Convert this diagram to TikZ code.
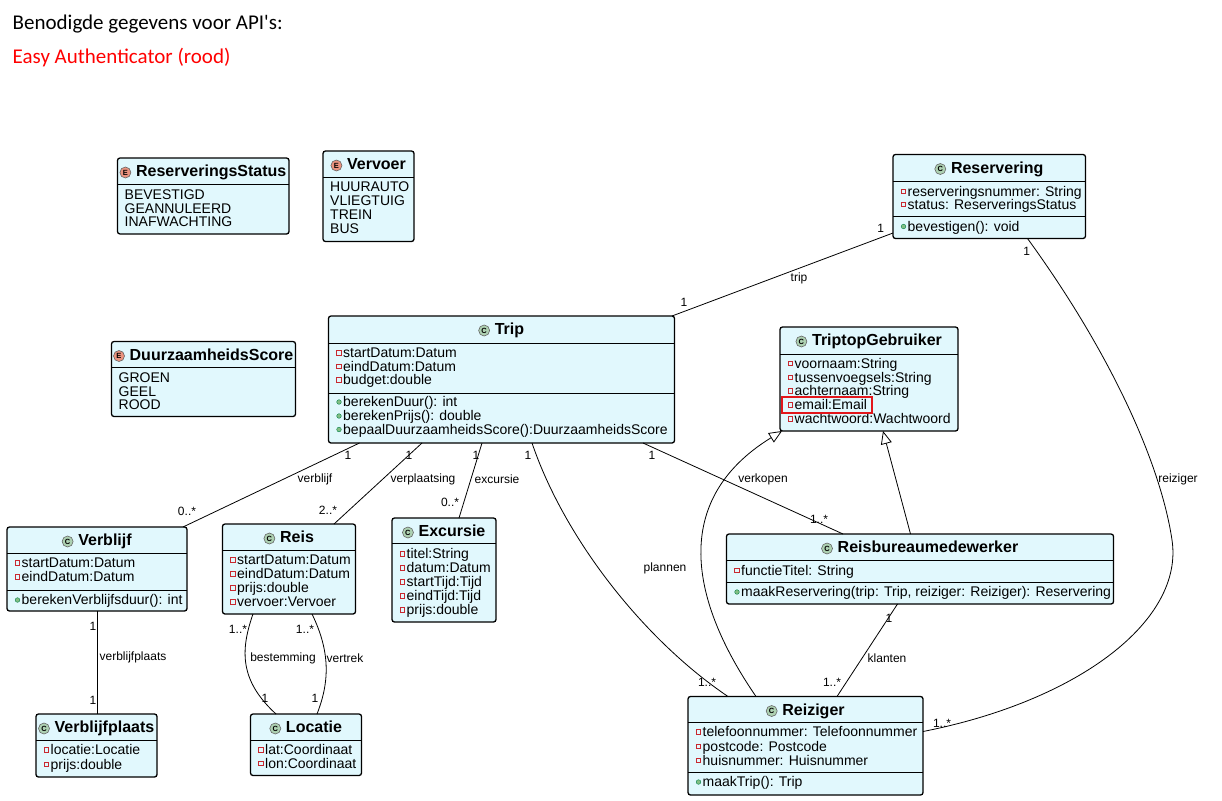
\documentclass[tikz,border=0pt]{standalone}
\usepackage{fontspec}
\setmainfont{Liberation Sans}
\newfontfamily\calibri[Ligatures=TeXOff]{Carlito}
\usetikzlibrary{arrows.meta}
\definecolor{boxfill}{HTML}{E1F8FD}
\definecolor{cicon}{HTML}{ADD1B2}
\definecolor{eicon}{HTML}{EB937F}
\definecolor{privred}{HTML}{C82930}
\definecolor{pubfill}{HTML}{84BE84}
\definecolor{publine}{HTML}{038048}
\definecolor{hlred}{HTML}{E3161B}

\newcounter{itemno}
% class frame: name, x, y, width, height
\newcommand\classframe[5]{\node[classbox, minimum width=#4pt, minimum height=#5pt] (#1) at (#2,#3) {};}
% compartment divider at an offset below the top edge
\newcommand\classsep[2]{\draw[sepline] ([yshift=-#2pt]#1.north west) -- ([yshift=-#2pt]#1.north east);}
% header: box, icon letter, icon colour, name
\newcommand\classtitle[4]{%
  \node[titletext] (#1-title) at ([yshift=-18.5pt]#1.north) {\hspace*{16pt}#4};
  \node[iconcirc, fill=#3] (#1-icon) at ([xshift=5.5pt,yshift=4pt]#1-title.base west) {#2};}
% private attribute row: box, row centre offset, text
\newcommand\attrrow[3]{\stepcounter{itemno}%
  \node[rowtext] (#1-a\arabic{itemno}) at ([xshift=14.5pt,yshift=-#2pt-4.5pt]#1.north west) {#3};
  \node[privicon] (#1-p\arabic{itemno}) at ([xshift=10.5pt,yshift=-#2pt]#1.north west) {};}
% public method row
\newcommand\methrow[3]{\stepcounter{itemno}%
  \node[rowtext] (#1-m\arabic{itemno}) at ([xshift=14.5pt,yshift=-#2pt-4.5pt]#1.north west) {#3};
  \node[pubicon] (#1-q\arabic{itemno}) at ([xshift=10.5pt,yshift=-#2pt]#1.north west) {};}
% enum literal row
\newcommand\litrow[3]{\stepcounter{itemno}%
  \node[rowtext] (#1-l\arabic{itemno}) at ([xshift=7pt,yshift=-#2pt-4.5pt]#1.north west) {#3};}
% edge label
\newcommand\elabel[3]{\stepcounter{itemno}\node[lbl] (lbl\arabic{itemno}) at (#1,#2) {#3};}

\begin{document}
\begin{tikzpicture}[x=1pt,y=-1pt,
  classbox/.style={draw, line width=1.3pt, fill=boxfill, rounded corners=2.5pt, anchor=north west, inner sep=0pt, outer sep=0pt},
  sepline/.style={line width=1pt},
  titletext/.style={anchor=base, inner sep=0pt, font=\bfseries\fontsize{16}{16}\selectfont},
  iconcirc/.style={circle, draw=black!60, line width=0.6pt, minimum size=11pt, inner sep=0pt, font=\bfseries\fontsize{7.5}{7.5}\selectfont},
  rowtext/.style={anchor=base west, inner sep=0pt, font=\fontsize{14}{14}\selectfont},
  privicon/.style={rectangle, draw=privred, line width=0.8pt, minimum size=4.5pt, inner sep=0pt},
  pubicon/.style={circle, fill=pubfill, draw=publine, line width=0.4pt, minimum size=4.6pt, inner sep=0pt},
  assoc/.style={line width=0.8pt},
  gen/.style={line width=0.8pt, -{Triangle[open, length=13pt, width=11pt]}},
  lbl/.style={inner sep=0pt, font=\fontsize{12}{12}\selectfont},
]
\useasboundingbox[fill=white] (0,0) rectangle (1222,800);

% heading lines
\node[anchor=base west, inner sep=0pt, font=\calibri\fontsize{21}{21}\selectfont] (heading) at (12.5,30) {Benodigde gegevens voor API's:};
\node[anchor=base west, inner sep=0pt, text=red, font=\calibri\fontsize{21}{21}\selectfont] (subheading) at (12.5,63.5) {Easy Authenticator (rood)};

% ---- enumerations
\classframe{rstatus}{117.5}{158}{171.5}{76}
\classsep{rstatus}{26}
\classtitle{rstatus}{E}{eicon}{ReserveringsStatus}
\litrow{rstatus}{37}{BEVESTIGD}
\litrow{rstatus}{50.5}{GEANNULEERD}
\litrow{rstatus}{64}{INAFWACHTING}

\classframe{vervoer}{323}{151}{91}{90.5}
\classsep{vervoer}{26}
\classtitle{vervoer}{E}{eicon}{Vervoer}
\litrow{vervoer}{36}{HUURAUTO}
\litrow{vervoer}{50}{VLIEGTUIG}
\litrow{vervoer}{64}{TREIN}
\litrow{vervoer}{78}{BUS}

\classframe{dscore}{111.5}{341.5}{184}{75}
\classsep{dscore}{25.5}
\classtitle{dscore}{E}{eicon}{DuurzaamheidsScore}
\litrow{dscore}{36}{GROEN}
\litrow{dscore}{50}{GEEL}
\litrow{dscore}{63.5}{ROOD}

% ---- classes
\classframe{reservering}{893}{154.5}{192.5}{84}
\classsep{reservering}{26.5}
\classsep{reservering}{61.5}
\classtitle{reservering}{C}{cicon}{Reservering}
\attrrow{reservering}{37}{reserveringsnummer: String}
\attrrow{reservering}{50}{status: ReserveringsStatus}
\methrow{reservering}{72}{bevestigen(): void}

\classframe{trip}{328.5}{316}{346}{127}
\classsep{trip}{27}
\classsep{trip}{77}
\classtitle{trip}{C}{cicon}{Trip}
\attrrow{trip}{37}{startDatum:Datum}
\attrrow{trip}{50.5}{eindDatum:Datum}
\attrrow{trip}{64}{budget:double}
\methrow{trip}{86}{berekenDuur(): int}
\methrow{trip}{100}{berekenPrijs(): double}
\methrow{trip}{113.5}{bepaalDuurzaamheidsScore():DuurzaamheidsScore}

\classframe{tg}{780}{327}{178}{104}
\classsep{tg}{27.5}
\classtitle{tg}{C}{cicon}{TriptopGebruiker}
\attrrow{tg}{36.5}{voornaam:String}
\attrrow{tg}{50.5}{tussenvoegsels:String}
\attrrow{tg}{64}{achternaam:String}
\attrrow{tg}{78}{email:Email}
\attrrow{tg}{92}{wachtwoord:Wachtwoord}
% highlighted e-mail attribute
\draw[hlred, line width=2pt] ([xshift=2pt,yshift=-70pt]tg.north west) rectangle ([xshift=92pt,yshift=-86pt]tg.north west);

\classframe{verblijf}{7}{527}{180}{84}
\classsep{verblijf}{26}
\classsep{verblijf}{63}
\classtitle{verblijf}{C}{cicon}{Verblijf}
\attrrow{verblijf}{36}{startDatum:Datum}
\attrrow{verblijf}{50}{eindDatum:Datum}
\methrow{verblijf}{73}{berekenVerblijfsduur(): int}

\classframe{vplaats}{36}{714}{121}{63}
\classsep{vplaats}{26}
\classtitle{vplaats}{C}{cicon}{Verblijfplaats}
\attrrow{vplaats}{36}{locatie:Locatie}
\attrrow{vplaats}{50.5}{prijs:double}

\classframe{reis}{222.5}{524}{133}{90}
\classsep{reis}{26}
\classtitle{reis}{C}{cicon}{Reis}
\attrrow{reis}{36}{startDatum:Datum}
\attrrow{reis}{50}{eindDatum:Datum}
\attrrow{reis}{64}{prijs:double}
\attrrow{reis}{78}{vervoer:Vervoer}

\classframe{excursie}{392}{518}{104}{104}
\classsep{excursie}{25.5}
\classtitle{excursie}{C}{cicon}{Excursie}
\attrrow{excursie}{36}{titel:String}
\attrrow{excursie}{50}{datum:Datum}
\attrrow{excursie}{64}{startTijd:Tijd}
\attrrow{excursie}{78}{eindTijd:Tijd}
\attrrow{excursie}{92}{prijs:double}

\classframe{locatie}{250.5}{714}{111}{61.5}
\classsep{locatie}{26}
\classtitle{locatie}{C}{cicon}{Locatie}
\attrrow{locatie}{36}{lat:Coordinaat}
\attrrow{locatie}{49.5}{lon:Coordinaat}

\classframe{rbm}{726.5}{534}{387}{70}
\classsep{rbm}{26.5}
\classsep{rbm}{48.5}
\classtitle{rbm}{C}{cicon}{Reisbureaumedewerker}
\attrrow{rbm}{36.5}{functieTitel: String}
\methrow{rbm}{58}{maakReservering(trip: Trip, reiziger: Reiziger): Reservering}

\classframe{reiziger}{688}{696.5}{235}{98.5}
\classsep{reiziger}{26}
\classsep{reiziger}{76}
\classtitle{reiziger}{C}{cicon}{Reiziger}
\attrrow{reiziger}{35.5}{telefoonnummer: Telefoonnummer}
\attrrow{reiziger}{50}{postcode: Postcode}
\attrrow{reiziger}{64}{huisnummer: Huisnummer}
\methrow{reiziger}{85.5}{maakTrip(): Trip}

% ---- associations
\draw[assoc] ([yshift=-78.5pt]reservering.north west) -- ([xshift=-2.5pt]trip.north east);
\elabel{880.7}{228}{1}
\elabel{684}{302}{1}
\elabel{799}{278}{trip}

\coordinate (rzturn) at (1172,540);
\draw[assoc] ([xshift=-58pt]reservering.south east) .. controls +(80,110) and +(-12,-80) .. (rzturn)
  .. controls +(12,80) and +(157,-31) .. ([yshift=-35pt]reiziger.north east);
\elabel{1026.7}{251.7}{1}
\elabel{1178}{479}{reiziger}
\elabel{942}{723}{1..*}

\draw[assoc] ([xshift=31pt]trip.south west) -- ([xshift=-4pt]verblijf.north east);
\elabel{348}{455}{1}
\elabel{315}{479}{verblijf}
\elabel{187}{511}{0..*}

\draw[assoc] ([xshift=93.5pt]trip.south west) -- ([xshift=111.5pt]reis.north west);
\elabel{409}{455}{1}
\elabel{423}{479}{verplaatsing}
\elabel{328}{510}{2..*}

\draw[assoc] ([xshift=153.5pt]trip.south west) -- ([xshift=67pt]excursie.north west);
\elabel{476}{455}{1}
\elabel{497}{479}{excursie}
\elabel{450}{502}{0..*}

\draw[assoc] ([xshift=203.5pt]trip.south west) .. controls +(33,97) and +(-83,-56) .. ([xshift=40pt]reiziger.north west);
\elabel{528}{455}{1}
\elabel{665}{568}{plannen}
\elabel{707}{682}{1..*}

\draw[assoc] ([xshift=314.5pt]trip.south west) -- ([xshift=116.5pt]rbm.north west);
\elabel{652}{455}{1}
\elabel{763}{479}{verkopen}
\elabel{819}{519}{1..*}

\draw[assoc] ([xshift=171pt]rbm.south west) -- ([xshift=149pt]reiziger.north west);
\elabel{889}{618}{1}
\elabel{887}{658}{klanten}
\elabel{832}{682}{1..*}

\draw[assoc] ([xshift=90pt]verblijf.south west) -- ([xshift=61pt]vplaats.north west);
\elabel{93}{626}{1}
\elabel{133}{657}{verblijfplaats}
\elabel{93}{700}{1}

\draw[assoc] ([xshift=30.5pt]reis.south west) .. controls +(-13,37) and +(-36,-33) .. ([xshift=25.5pt]locatie.north west);
\elabel{238}{629}{1..*}
\elabel{283}{658}{bestemming}
\elabel{265}{698}{1}

\draw[assoc] ([xshift=89.5pt]reis.south west) .. controls +(18,37) and +(13,-33) .. ([xshift=66.5pt]locatie.north west);
\elabel{305}{629}{1..*}
\elabel{345}{658}{vertrek}
\elabel{315}{698}{1}

% ---- generalisations
\draw[gen] ([xshift=68pt]reiziger.north west) .. controls +(-66,-96) and +(-112,69) .. ([xshift=2pt]tg.south west);
\draw[gen] ([xshift=184pt]rbm.north west) -- ([xshift=103pt]tg.south west);
\end{tikzpicture}
\end{document}
